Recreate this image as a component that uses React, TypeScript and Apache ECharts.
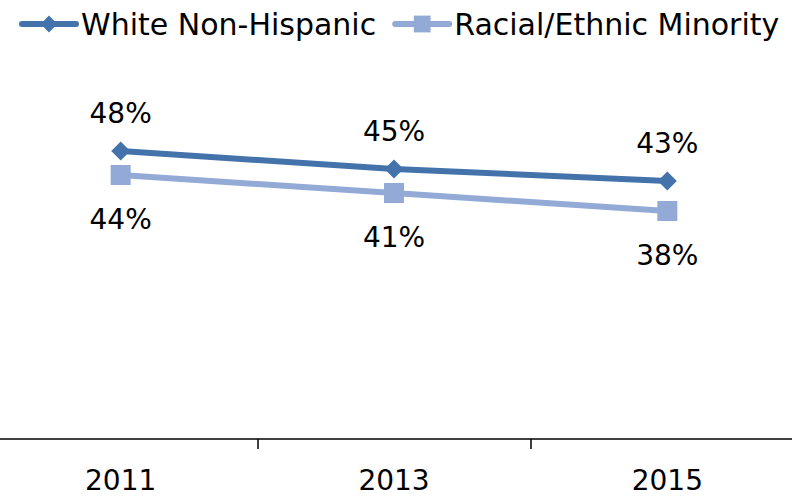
import React, { useEffect, useRef } from "react";
import * as echarts from "echarts";

const categories = ["2011", "2013", "2015"];
const whiteNonHispanic = [48, 45, 43];
const minority = [44, 41, 38];
const seriesNames = ["White Non-Hispanic", "Racial/Ethnic Minority"];

const FONT = "DejaVu Sans";
const C1 = "#4472AA";
const C2 = "#93AAD6";

export default function App() {
  const ref = useRef<HTMLDivElement>(null);
  useEffect(() => {
    const chart = echarts.init(ref.current!, null, { renderer: "svg" });
    chart.setOption({
      animation: false,
      backgroundColor: "#ffffff",
      textStyle: { fontFamily: FONT },
      legend: {
        top: 4,
        left: 30,
        itemWidth: 54,
        itemHeight: 21,
        itemGap: 16,
        textStyle: { fontFamily: FONT, fontSize: 30, color: "#000" },
        data: [
          { name: seriesNames[0], lineStyle: { width: 6, cap: "round", color: C1 } },
          { name: seriesNames[1], lineStyle: { width: 6, cap: "round", color: C2 } },
        ],
      },
      grid: { left: 0, right: 0, top: 79, bottom: 58, containLabel: false },
      xAxis: {
        type: "category",
        data: categories,
        boundaryGap: true,
        axisLine: { lineStyle: { color: "#000", width: 1.5 } },
        axisTick: { show: true, length: 10, lineStyle: { color: "#000", width: 1.5 } },
        axisLabel: { fontFamily: FONT, fontSize: 28, color: "#000", margin: 27 },
      },
      yAxis: {
        type: "value",
        min: 0,
        max: 60,
        show: false,
        splitLine: { show: false },
      },
      series: [
        {
          name: seriesNames[0],
          type: "line",
          data: whiteNonHispanic,
          symbol: "diamond",
          symbolSize: 19,
          itemStyle: { color: C1 },
          lineStyle: { color: C1, width: 6 },
          label: {
            show: true,
            position: "top",
            distance: 14,
            formatter: "{c}%",
            fontFamily: FONT,
            fontSize: 28,
            color: "#000",
          },
        },
        {
          name: seriesNames[1],
          type: "line",
          data: minority,
          symbol: "rect",
          symbolSize: 20,
          itemStyle: { color: C2 },
          lineStyle: { color: C2, width: 6 },
          label: {
            show: true,
            position: "bottom",
            distance: 20,
            formatter: "{c}%",
            fontFamily: FONT,
            fontSize: 28,
            color: "#000",
          },
        },
      ],
    });
    return () => chart.dispose();
  }, []);
  return (
    <div style={{ position: "absolute", left: 0, top: 0, width: 792, height: 497, overflow: "hidden" }}>
      <div ref={ref} style={{ width: 820, height: 497, position: "absolute", left: -16, top: 0 }} />
    </div>
  );
}
